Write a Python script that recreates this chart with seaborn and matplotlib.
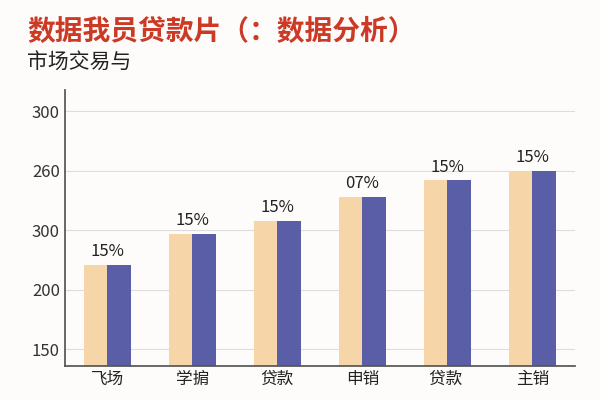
import matplotlib
matplotlib.use("Agg")
import matplotlib.pyplot as plt
import seaborn as sns
import pandas as pd

categories = ["飞场", "学掮", "贷款", "申销", "贷款 ", "主销"]
series_a = [221, 247, 258, 278, 292, 300]
series_b = [221, 247, 258, 278, 292, 300]
pct_labels = ["15%", "15%", "15%", "07%", "15%", "15%"]
tick_vals = [150, 200, 250, 300, 350]
tick_labels = ["150", "200", "300", "260", "300"]

sns.set_theme(style="white")
plt.rcParams['font.family'] = ['Noto Sans CJK SC', 'DejaVu Sans']

df = pd.DataFrame({"cat": categories * 2, "val": series_a + series_b,
                   "s": ["a"] * 6 + ["b"] * 6})
fig = plt.figure(figsize=(6, 4), dpi=100, facecolor="#fdfcfa")
ax = fig.add_axes([0.108, 0.085, 0.85, 0.69])
ax.set_facecolor("#fdfcfa")
sns.barplot(data=df, x="cat", y="val", hue="s", palette=["#F6D5A8", "#5A5EA6"],
            width=0.55, gap=0, legend=False, ax=ax, saturation=1, linewidth=0)
ax.set_ylim(136, 368)
ax.set_yticks(tick_vals)
ax.set_yticklabels(tick_labels, fontsize=12, color="#333")
ax.tick_params(axis="x", labelsize=12, colors="#222", length=0)
ax.tick_params(axis="y", length=0)
ax.set_xlabel(""); ax.set_ylabel("")
ax.grid(axis="y", color="#dddddd", lw=0.8)
ax.set_axisbelow(True)
for s in ["top", "right"]:
    ax.spines[s].set_visible(False)
ax.spines["left"].set_color("#555")
ax.spines["bottom"].set_color("#555")
for i, (v, t) in enumerate(zip(series_a, pct_labels)):
    ax.text(i, v + 4, t, ha="center", va="bottom", fontsize=12, color="#222")
fig.text(0.045, 0.9, "数据我员贷款片（：数据分析）", fontsize=20, fontweight="bold",
         color="#CC3A26")
fig.text(0.045, 0.83, "市场交易与", fontsize=15, color="#222")
fig.savefig("out.png", dpi=100, facecolor=fig.get_facecolor())
